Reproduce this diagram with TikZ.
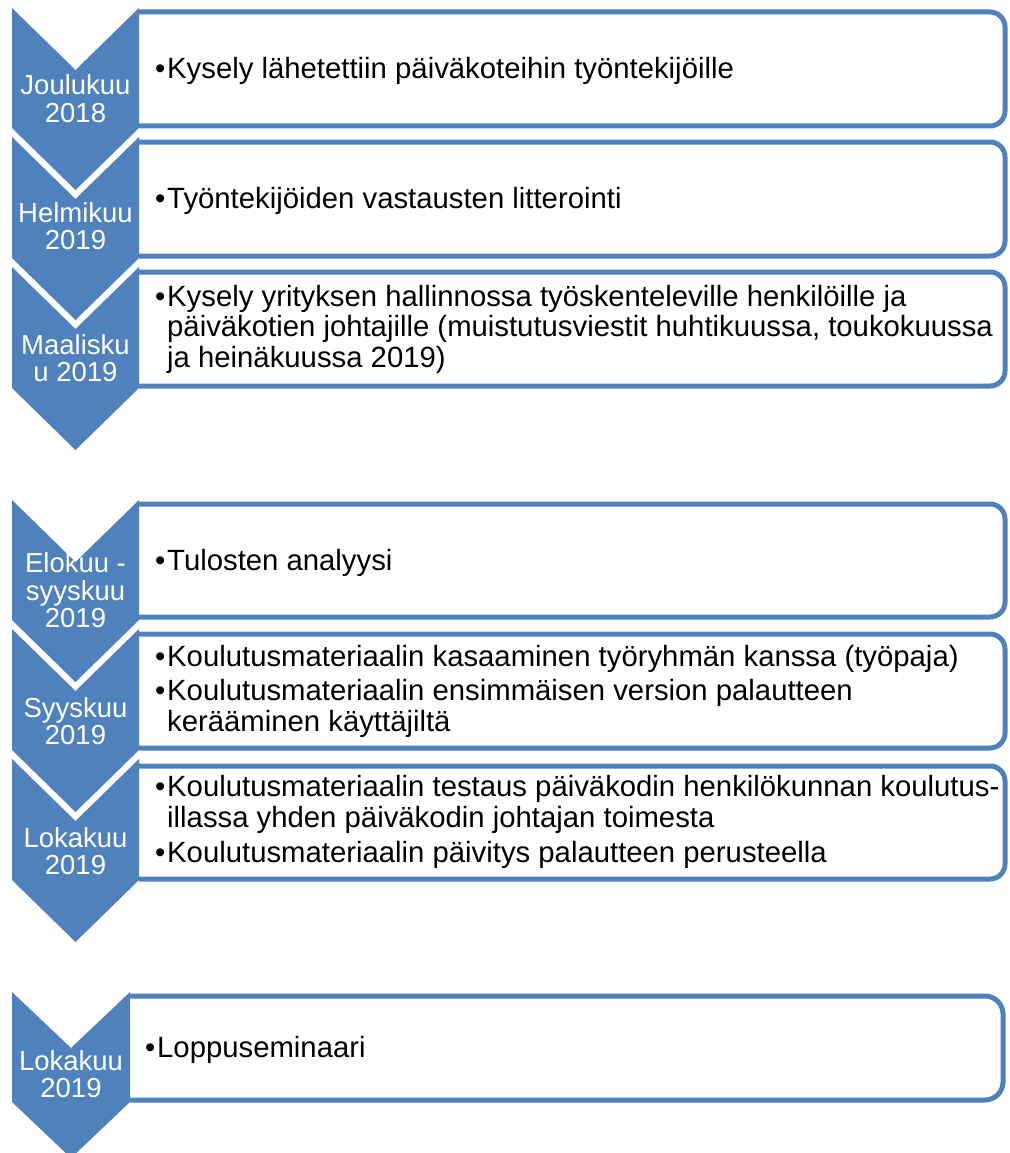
\documentclass[tikz,border=0pt]{standalone}
\usepackage{fontspec}
\setmainfont{Liberation Sans}
\definecolor{acc}{HTML}{4F81BD}
% chevron: left, right, top, body height, notch depth
\newcommand\mychev[5]{%
  \fill[chevfill] (#1,#3) -- ({(#1+#2)/2},{#3+#5}) -- (#2,#3) -- (#2,{#3+#4})
    -- ({(#1+#2)/2},{#3+#4+#5}) -- (#1,{#3+#4}) -- cycle;}
% text box open on the left: left, right, top, bottom, radius
\newcommand\mybox[5]{%
  \draw[boxline, rounded corners=#5] (#1,#3) -- (#2,#3) -- (#2,#4) -- (#1,#4);}
\newcommand\bul{\makebox[12pt][l]{•}}
\begin{document}
\begin{tikzpicture}[x=1pt,y=-1pt,
  chevfill/.style={fill=acc},
  boxline/.style={draw=acc, line width=5pt},
  lab/.style={anchor=base, inner sep=0pt, text=white, font=\fontsize{27.5}{27.5}\selectfont},
  itm/.style={anchor=base west, inner sep=0pt, text=black, font=\fontsize{29.3}{31}\selectfont}]
\useasboundingbox (0,0) rectangle (1009,1153);
\clip (0,0) rectangle (1009,1153);

% ---------- boxes ----------
\mybox{139}{1005}{12}{126}{15pt}
\mybox{139}{1005}{142}{256}{15pt}
\mybox{139}{1005}{272}{386}{15pt}
\mybox{139}{1005}{504}{617}{15pt}
\mybox{139}{1005}{634}{748}{15pt}
\mybox{139}{1005}{766}{879}{15pt}
\mybox{130}{1003}{996}{1100}{18pt}

% ---------- chevrons ----------
\mychev{12}{139}{8}{120}{62}
\mychev{12}{139}{137}{121}{62}
\mychev{12}{139}{267}{121}{62}
\mychev{12}{139}{500}{120}{62}
\mychev{12}{139}{629}{121}{62}
\mychev{12}{139}{759}{121}{62}
\mychev{12}{130}{992}{110}{56}

% ---------- chevron labels ----------
\node[lab] (l1) at (75.5,95) {\begin{tabular}[t]{@{}c@{}}Joulukuu\\2018\end{tabular}};
\node[lab] (l2) at (75.5,222) {\begin{tabular}[t]{@{}c@{}}Helmikuu\\2019\end{tabular}};
\node[lab] (l3) at (75.5,354) {\begin{tabular}[t]{@{}c@{}}Maalisku\\u 2019\end{tabular}};
\node[lab] (l4) at (75.5,572) {\begin{tabular}[t]{@{}c@{}}Elokuu -\\syyskuu\\2019\end{tabular}};
\node[lab] (l5) at (75.5,717) {\begin{tabular}[t]{@{}c@{}}Syyskuu\\2019\end{tabular}};
\node[lab] (l6) at (75.5,847) {\begin{tabular}[t]{@{}c@{}}Lokakuu\\2019\end{tabular}};
\node[lab] (l7) at (71,1070) {\begin{tabular}[t]{@{}c@{}}Lokakuu\\2019\end{tabular}};

% ---------- box texts ----------
\node[itm] (t1) at (155,79) {\begin{tabular}[t]{@{}l@{}l@{}}\bul&Kysely lähetettiin päiväkoteihin työntekijöille\end{tabular}};
\node[itm] (t2) at (155,208.5) {\begin{tabular}[t]{@{}l@{}l@{}}\bul&Työntekijöiden vastausten litterointi\end{tabular}};
\node[itm, font=\fontsize{29.3}{30}\selectfont] (t3) at (155,306.7) {\begin{tabular}[t]{@{}l@{}l@{}}\bul&Kysely yrityksen hallinnossa työskenteleville henkilöille ja\\
  &päiväkotien johtajille (muistutusviestit huhtikuussa, toukokuussa\\
  &ja heinäkuussa 2019)\end{tabular}};
\node[itm] (t4) at (155,570) {\begin{tabular}[t]{@{}l@{}l@{}}\bul&Tulosten analyysi\end{tabular}};
\node[itm] (t5) at (155,666.7) {\begin{tabular}[t]{@{}l@{}l@{}}\bul&Koulutusmateriaalin kasaaminen työryhmän kanssa (työpaja)\\[3pt]
  \bul&Koulutusmateriaalin ensimmäisen version palautteen\\
  &kerääminen käyttäjiltä\end{tabular}};
\node[itm] (t6) at (155,796.7) {\begin{tabular}[t]{@{}l@{}l@{}}\bul&Koulutusmateriaalin testaus päiväkodin henkilökunnan koulutus-\\
  &illassa yhden päiväkodin johtajan toimesta\\[3.5pt]
  \bul&Koulutusmateriaalin päivitys palautteen perusteella\end{tabular}};
\node[itm] (t7) at (145,1057.3) {\begin{tabular}[t]{@{}l@{}l@{}}\bul&Loppuseminaari\end{tabular}};
\end{tikzpicture}
\end{document}
